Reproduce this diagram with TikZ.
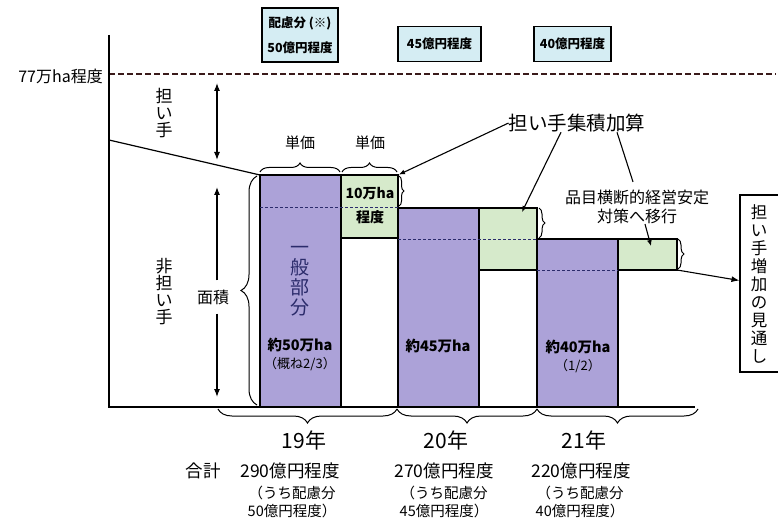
\documentclass[tikz,border=0pt]{standalone}
\usepackage{fontspec}
\setmainfont{Noto Sans CJK JP}
\usetikzlibrary{decorations.pathreplacing,arrows.meta}
\definecolor{barpurple}{HTML}{ACA2D8}
\definecolor{bargreen}{HTML}{D6EACB}
\definecolor{boxblue}{HTML}{D5EDF3}
\definecolor{navyd}{HTML}{2B2B6B}
\definecolor{dashred}{HTML}{3A1A1A}
\newcommand\fsz[2]{\fontsize{#1}{#2}\selectfont}
\begin{document}
\begin{tikzpicture}[x=1pt,y=-1pt,
  pbar/.style={draw=black, line width=1.1pt, fill=barpurple, inner sep=0pt, outer sep=0pt, anchor=north west},
  gbar/.style={draw=black, line width=1.1pt, fill=bargreen, inner sep=0pt, outer sep=0pt, anchor=north west},
  topbox/.style={draw=black, line width=1.1pt, fill=boxblue, inner sep=0pt, font=\bfseries\fsz{12.5}{25}, align=center},
  navydash/.style={navyd, dash pattern=on 3pt off 2pt, line width=1pt},
  ax/.style={line width=1.3pt},
  brc/.style={decorate, decoration={brace, amplitude=#1}, line width=1pt},
  dbl/.style={{Latex[length=8pt,width=6pt]}-{Latex[length=8pt,width=6pt]}, line width=1.1pt},
  arr/.style={-{Latex[length=8pt,width=6pt]}, line width=1.1pt},
  ptr/.style={-{Latex[length=6pt,width=5pt]}, line width=1.1pt},
  lbl/.style={inner sep=0pt, align=center}]
\useasboundingbox (0,0) rectangle (778,521);

% top boxes
\node[topbox, minimum width=76pt, minimum height=54pt] (b1) at (300,35) {配慮分 (※)\\50億円程度};
\node[topbox, minimum width=83pt, minimum height=35pt] (b2) at (439.5,44) {45億円程度};
\node[topbox, minimum width=77pt, minimum height=35pt] (b3) at (572.5,44) {40億円程度};

% 77 line
\draw[dashred, dash pattern=on 6pt off 3pt, line width=1.3pt] (109,74) -- (776,74);
\node[lbl, anchor=east, font=\fsz{16}{16}] (l77) at (103,76) {77万ha程度};

% bars
\node[pbar, minimum width=81pt, minimum height=232pt] (p1) at (260,175) {};
\node[gbar, minimum width=57pt, minimum height=63pt] (g1) at (341,175) {};
\node[pbar, minimum width=81pt, minimum height=199pt] (p2) at (398,208) {};
\node[gbar, minimum width=58pt, minimum height=62pt] (g2) at (479,208) {};
\node[pbar, minimum width=81pt, minimum height=168pt] (p3) at (537,239) {};
\node[gbar, minimum width=59pt, minimum height=31pt] (g3) at (618,239) {};

\draw[navydash] (260,208) -- (398,208);
\draw[navydash] (398,239) -- (537,239);
\draw[navydash] (537,270) -- (618,270);

% axes
\draw[ax] (109,35) -- (109,407) -- (695,407);
\draw[line width=1.2pt] (109,140) -- (p1.north west);

% left labels and arrows
\node[lbl, font=\fsz{17}{17}] (tl) at (164,113) {担\\い\\手};
\coordinate (ta) at (217,83);
\coordinate (tb) at (217,160);
\draw[dbl] (ta) -- (tb);
\node[lbl, font=\fsz{17}{17}] (nl) at (164,292) {非\\担\\い\\手};
\node[lbl, font=\fsz{16}{16}, inner ysep=9pt] (mj) at (213,297) {面積};
\coordinate (mt) at (217,187);
\coordinate (mb) at (217,397);
\draw[arr] (mj.north -| mt) -- (mt);
\draw[arr] (mj.south -| mb) -- (mb);
\draw[brc=16] (257,405) -- (257,176);

% unit price
\draw[brc=9] (260,172) -- (340,172);
\draw[brc=9] (342,172) -- (397,172);
\node[lbl, font=\fsz{15}{15}] (u1) at (300,143) {単価};
\node[lbl, font=\fsz{15}{15}] (u2) at (370,143) {単価};

% bar texts
\node[lbl, font=\bfseries\fsz{14}{24}] (g1t) at (370,206) {10万ha\\程度};
\node[lbl, font=\fsz{19}{20}, text=navyd] (ip) at (300,281) {一\\般\\部\\分};
\node[lbl, font=\bfseries\fsz{14.5}{14}] (p1a) at (300,345) {約50万ha};
\node[lbl, font=\fsz{13}{12}] (p1b) at (300,364) {（概ね2/3）};
\node[lbl, font=\bfseries\fsz{14.5}{14}] (p2a) at (438,346) {約45万ha};
\node[lbl, font=\bfseries\fsz{14.5}{14}] (p3a) at (578,347) {約40万ha};
\node[lbl, font=\fsz{13}{12}] (p3b) at (578,366) {（1/2）};

% small right braces
\draw[brc=5] (399,176) -- (399,206);
\draw[brc=6] (539,208) -- (539,238);
\draw[brc=6] (678,239) -- (678,269);

% pointer label
\node[lbl, font=\fsz{19.5}{20}] (sk) at (577,123) {担い手集積加算};
\draw[ptr, shorten >=1pt] (sk.west) -- (g1.north east);
\coordinate (a2) at (522,212);
\draw[ptr] ([xshift=-16pt]sk.south) -- (a2);
\node[lbl, font=\fsz{16}{19}] (hm) at (637,207) {品目横断的経営安定\\対策へ移行};
\draw[line width=1.1pt] ([xshift=40pt]sk.south) -- ([xshift=-4pt,yshift=8pt]hm.north);
\coordinate (a3) at (651,246);
\draw[ptr] ([xshift=8pt]hm.south) -- (a3);

% right box
\node[draw, line width=1.1pt, minimum width=50pt, minimum height=177pt, inner sep=0pt] (rb) at (765,283.5) {};
\node[lbl, font=\fsz{16.5}{18}] (rt) at (759,284) {担\\い\\手\\増\\加\\の\\見\\通\\し};
\draw[arr] (g3.south east) -- ([yshift=3pt]rb.west);

% bottom braces
\draw[brc=14] (397,409) -- (218,409);
\draw[brc=14] (537,409) -- (397,409);
\draw[brc=14] (698,409) -- (537,409);

\node[lbl, font=\fsz{21}{21}] (y19) at (304,440) {19年};
\node[lbl, font=\fsz{21}{21}] (y20) at (446,440) {20年};
\node[lbl, font=\fsz{21}{21}] (y21) at (584,440) {21年};
\node[lbl, font=\fsz{17.5}{17}] (gk) at (203,471) {合計};
\node[lbl, font=\fsz{17.5}{17}] (t19) at (290,471) {290億円程度};
\node[lbl, font=\fsz{17.5}{17}] (t20) at (444,471) {270億円程度};
\node[lbl, font=\fsz{17.5}{17}] (t21) at (581,471) {220億円程度};
\node[lbl, font=\fsz{14.5}{18}] (s19) at (292,502) {（うち配慮分\\50億円程度）};
\node[lbl, font=\fsz{14.5}{18}] (s20) at (444,502) {（うち配慮分\\45億円程度）};
\node[lbl, font=\fsz{14.5}{18}] (s21) at (580,502) {（うち配慮分\\40億円程度）};
\end{tikzpicture}
\end{document}
